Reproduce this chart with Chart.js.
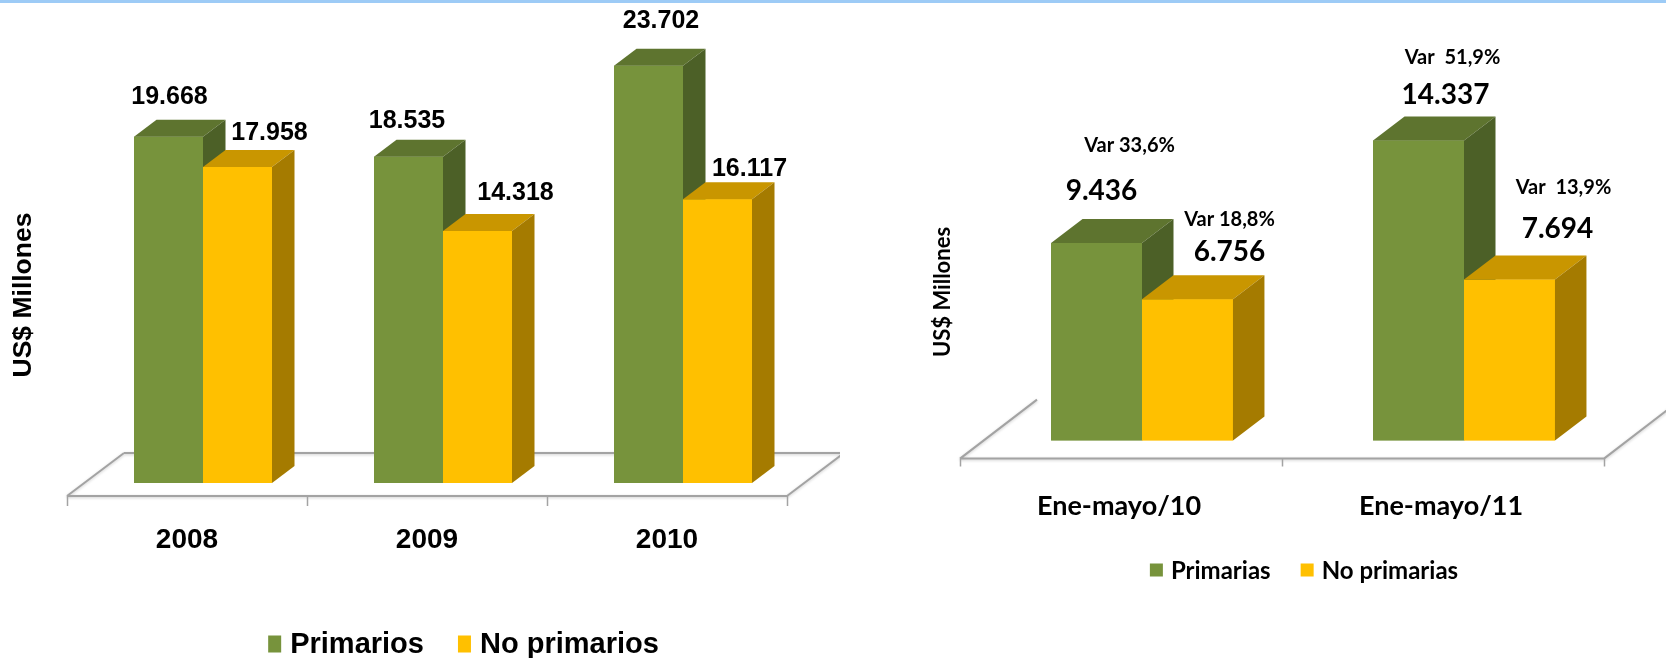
<!DOCTYPE html>
<html>
<head>
<meta charset="utf-8">
<script src="https://cdn.jsdelivr.net/npm/chart.js@4.4.1/dist/chart.umd.min.js"></script>
<style>
  html, body { margin: 0; padding: 0; background: #fff; }
  body { width: 1666px; height: 658px; position: relative; overflow: hidden; }
  .franja { position: absolute; left: 0; top: 0; width: 1666px; height: 3px; background: #9dcbf6; }
  #anual { position: absolute; left: 0; top: 0; }
  #parcial { position: absolute; left: 840px; top: 0; }
</style>
</head>
<body>
<canvas id="anual" width="840" height="658"></canvas>
<canvas id="parcial" width="826" height="658"></canvas>
<div class="franja"></div>
<script>
// exportaciones anuales, US$ millones
const years = ['2008', '2009', '2010'];
const primarios = [19668, 18535, 23702];
const noPrimarios = [17958, 14318, 16117];

// enero-mayo de cada año
const periodos = ['Ene-mayo/10', 'Ene-mayo/11'];
const primarias = [9436, 14337];
const noPrimarias = [6756, 7694];
const varPrimarias = ['Var 33,6%', 'Var  51,9%'];
const varNoPrimarias = ['Var 18,8%', 'Var  13,9%'];

const ARIAL = "'Liberation Sans', Arial, sans-serif";
const CALIBRI = "Lato, 'Open Sans', sans-serif";

const GREEN = '#77933c', GREEN_TOP = '#5e742f', GREEN_SIDE = '#4c6027';
const YELLOW = '#ffc000', YELLOW_TOP = '#c99600', YELLOW_SIDE = '#a57b00';

function miles(v) {
  return String(v).replace(/\B(?=(\d{3})+(?!\d))/g, '.');
}

function poly(ctx, pts, color) {
  ctx.beginPath();
  ctx.moveTo(pts[0][0], pts[0][1]);
  for (let i = 1; i < pts.length; i++) ctx.lineTo(pts[i][0], pts[i][1]);
  ctx.closePath();
  ctx.fillStyle = color;
  ctx.fill();
}

// barras con cara superior y lateral, piso en perspectiva, etiquetas y leyenda
const cubos = {
  id: 'cubos',
  beforeDatasetsDraw(chart, args, o) {
    const { ctx, chartArea: a, scales: { x } } = chart;
    const f = o.floor;
    const fy = a.bottom + f.dy;
    const x0 = a.left + f.dx, x1 = a.right + f.dx;
    ctx.save();
    ctx.strokeStyle = '#a3a3a3';
    ctx.lineWidth = 2;
    ctx.shadowColor = 'rgba(0,0,0,0.2)';
    ctx.shadowBlur = 3;
    ctx.shadowOffsetY = 1;
    ctx.beginPath();
    ctx.moveTo(x0, fy); ctx.lineTo(x1, fy);
    ctx.moveTo(x0, fy); ctx.lineTo(x0 + f.depthX, fy - f.depthY);
    ctx.moveTo(x1, fy); ctx.lineTo(x1 + f.depthX, fy - f.depthY);
    if (f.back) {
      ctx.moveTo(x0 + f.depthX, fy - f.depthY);
      ctx.lineTo(x1 + f.depthX, fy - f.depthY);
    }
    ctx.stroke();
    ctx.shadowColor = 'transparent';
    ctx.lineWidth = 1.5;
    ctx.beginPath();
    for (let i = 0; i <= x.ticks.length; i++) {
      const tx = Math.round(x.getPixelForValue(i - 0.5) + f.dx) + 0.5;
      ctx.moveTo(tx, fy); ctx.lineTo(tx, fy + f.tick);
    }
    ctx.stroke();
    ctx.restore();
  },
  afterDatasetsDraw(chart, args, o) {
    const ctx = chart.ctx;
    // serie por serie: frente, tapa y costado, para que la de adelante tape a la de atrás
    ctx.save();
    chart.data.datasets.forEach((ds, i) => {
      const [top, side] = o.caras[i];
      chart.getDatasetMeta(i).data.forEach(bar => {
        bar.draw(ctx);
        const { x, y, base, width } = bar.getProps(['x', 'y', 'base', 'width'], true);
        const l = x - width / 2, r = x + width / 2;
        poly(ctx, [[l, y], [l + o.dx, y - o.dy], [r + o.dx, y - o.dy], [r, y]], top);
        poly(ctx, [[r, y], [r + o.dx, y - o.dy], [r + o.dx, base - o.dy], [r, base]], side);
      });
    });
    ctx.restore();

    ctx.save();
    ctx.fillStyle = '#000';
    ctx.textAlign = 'center';
    ctx.textBaseline = 'middle';
    o.etiquetas.forEach(e => {
      const meta = chart.getDatasetMeta(e.dataset);
      const vals = chart.data.datasets[e.dataset].data;
      ctx.font = e.font;
      meta.data.forEach((bar, j) => {
        const txt = e.text ? e.text[j] : miles(vals[j]);
        ctx.fillText(txt, bar.x + e.offsets[j][0], bar.y + e.offsets[j][1]);
      });
    });
    ctx.restore();
  },
  afterDraw(chart, args, o) {
    const ctx = chart.ctx;
    const t = o.title;
    ctx.save();
    ctx.fillStyle = '#000';
    ctx.translate(t.x, t.y);
    ctx.rotate(-Math.PI / 2);
    ctx.font = t.font;
    ctx.textAlign = 'center';
    ctx.textBaseline = 'middle';
    ctx.fillText(t.text, 0, 0);
    ctx.restore();

    const L = o.legend;
    ctx.save();
    ctx.font = L.font;
    const items = chart.data.datasets.map(d => ({
      text: d.label, color: d.backgroundColor, w: ctx.measureText(d.label).width
    }));
    const total = items.reduce((s, it) => s + L.box[0] + L.gap + it.w, 0) + L.spacing * (items.length - 1);
    let lx = L.x - total / 2;
    ctx.textAlign = 'left';
    ctx.textBaseline = 'middle';
    items.forEach(it => {
      ctx.fillStyle = it.color;
      ctx.fillRect(lx, L.y - L.box[1] / 2, L.box[0], L.box[1]);
      lx += L.box[0] + L.gap;
      ctx.fillStyle = '#000';
      ctx.fillText(it.text, lx, L.y + 1);
      lx += it.w + L.spacing;
    });
    ctx.restore();
  }
};

Chart.defaults.animation = false;
Chart.defaults.responsive = false;
Chart.defaults.plugins.legend.display = false;
Chart.defaults.plugins.tooltip.enabled = false;

new Chart(document.getElementById('anual'), {
  type: 'bar',
  data: {
    labels: years,
    datasets: [
      { label: 'Primarios', data: primarios, backgroundColor: GREEN },
      { label: 'No primarios', data: noPrimarios, backgroundColor: YELLOW }
    ]
  },
  options: {
    layout: { padding: { left: 83, right: 37, top: 43, bottom: 69 } },
    datasets: { bar: { barPercentage: 1, categoryPercentage: 0.575 } },
    scales: {
      x: {
        grid: { display: false },
        border: { display: false },
        ticks: {
          color: '#000', padding: 32.2, labelOffset: -16, maxRotation: 0,
          font: { family: ARIAL, size: 28, weight: 'bold' }
        }
      },
      y: { display: false, min: 0, max: 25000 }
    },
    plugins: {
      cubos: {
        dx: 22.5, dy: 17,
        caras: [[GREEN_TOP, GREEN_SIDE], [YELLOW_TOP, YELLOW_SIDE]],
        floor: { dx: -16, dy: 13, depthX: 57, depthY: 43, back: true, tick: 10 },
        etiquetas: [
          { dataset: 0, font: 'bold 25px ' + ARIAL, offsets: [[1, -40], [-1.5, -36], [12.5, -45]] },
          { dataset: 1, font: 'bold 25px ' + ARIAL, offsets: [[32, -34], [38, -38], [32, -30]] }
        ],
        title: { text: 'US$ Millones', x: 24, y: 295, font: 'bold 26.5px ' + ARIAL },
        legend: { x: 463.5, y: 644, font: 'bold 29px ' + ARIAL, box: [13, 17], gap: 9, spacing: 34 }
      }
    }
  },
  plugins: [cubos]
});

new Chart(document.getElementById('parcial'), {
  type: 'bar',
  data: {
    labels: periodos,
    datasets: [
      { label: 'Primarias', data: primarias, backgroundColor: GREEN },
      { label: 'No primarias', data: noPrimarias, backgroundColor: YELLOW }
    ]
  },
  options: {
    layout: { padding: { left: 141, right: 41, top: 105.6, bottom: 95 } },
    datasets: { bar: { barPercentage: 1, categoryPercentage: 0.565 } },
    scales: {
      x: {
        grid: { display: false },
        border: { display: false },
        ticks: {
          color: '#000', padding: 41, labelOffset: -23, maxRotation: 0,
          font: { family: CALIBRI, size: 27, weight: 'bold' }
        }
      },
      y: { display: false, min: 0, max: 16000 }
    },
    plugins: {
      cubos: {
        dx: 31.5, dy: 24,
        caras: [[GREEN_TOP, GREEN_SIDE], [YELLOW_TOP, YELLOW_SIDE]],
        floor: { dx: -21, dy: 18, depthX: 77, depthY: 59, back: false, tick: 8 },
        etiquetas: [
          { dataset: 0, font: 'bold 28px ' + CALIBRI, offsets: [[5, -52], [27, -45]] },
          { dataset: 1, font: 'bold 28px ' + CALIBRI, offsets: [[42, -47], [48, -51]] },
          { dataset: 0, font: 'bold 20px ' + CALIBRI, offsets: [[33, -97], [34, -83]], text: varPrimarias },
          { dataset: 1, font: 'bold 20px ' + CALIBRI, offsets: [[42, -80], [54, -92]], text: varNoPrimarias }
        ],
        title: { text: 'US$ Millones', x: 103, y: 292, font: 'bold 22px ' + CALIBRI },
        legend: { x: 464, y: 570, font: 'bold 24px ' + CALIBRI, box: [13, 13], gap: 8, spacing: 30 }
      }
    }
  },
  plugins: [cubos]
});
</script>
</body>
</html>
